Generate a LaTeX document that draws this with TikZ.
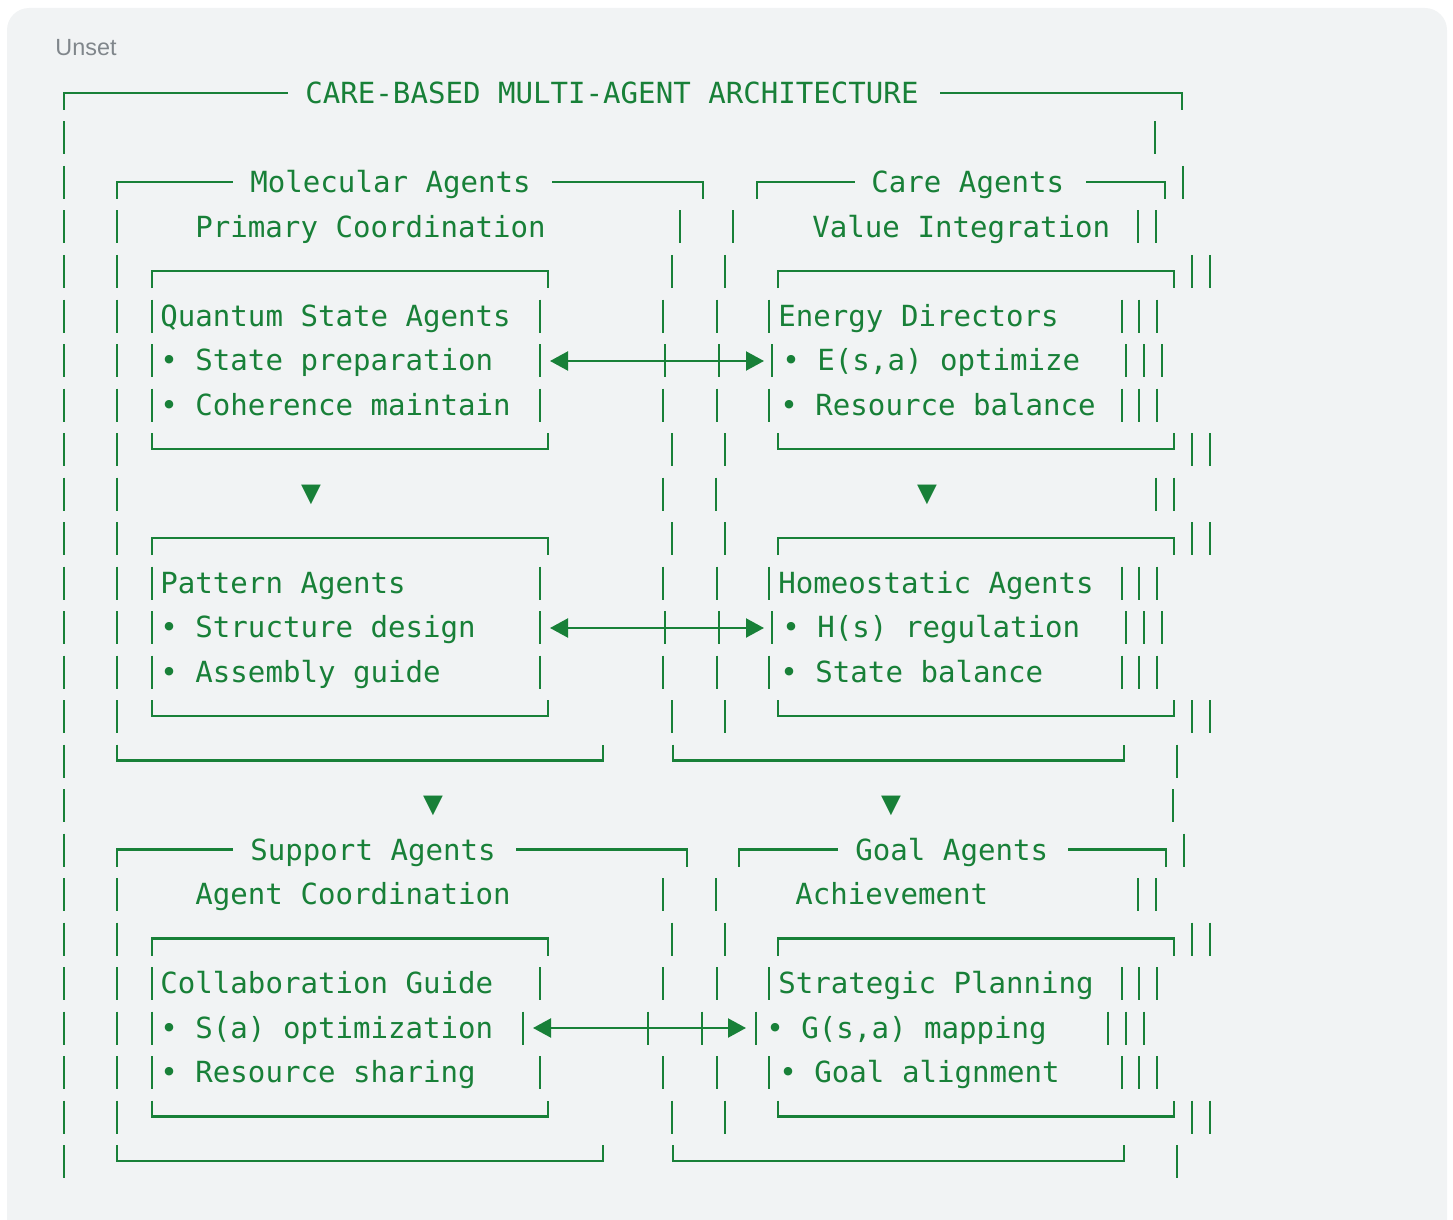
\documentclass[tikz,border=0pt]{standalone}
\usepackage{fontspec}
\setmainfont{Liberation Sans}
\newfontfamily\codefont{DejaVu Sans Mono}
\newfontfamily\symfont{DejaVu Sans Mono}
\usetikzlibrary{arrows.meta}
\definecolor{codegreen}{HTML}{188038}
\definecolor{codebg}{HTML}{F1F3F4}
\definecolor{labelgray}{HTML}{80868B}

\begin{document}
\begin{tikzpicture}[x=0.5pt, y=-0.5pt,
    bar/.style={codegreen, line width=1.15pt},
    txt/.style={anchor=base west, inner sep=0pt, text=codegreen,
        font=\codefont\fontsize{14.55}{17}\selectfont},
    down/.style={inner sep=0pt, text=codegreen,
        font=\symfont\fontsize{16.5}{19}\selectfont},
    biarrow/.style={codegreen, line width=1.1pt,
        {Triangle[length=9pt,width=9.5pt]}-{Triangle[length=9pt,width=9.5pt]}}]
    \useasboundingbox (0,0) rectangle (1453,1220);

    % Code block background
    \fill[codebg, rounded corners=11pt] (7,8) rectangle (1447,1260);
    \node[anchor=base west, inner sep=0pt, text=labelgray,
        font=\fontsize{11.7}{14}\selectfont] (unset) at (55,56) {Unset};

    % Outer frame
    \draw[bar] (64,110) |- (288,93);
    \draw[bar] (940,93) -| (1182,110);
    \node[txt] (title) at (305,103.5) {CARE-BASED MULTI-AGENT ARCHITECTURE};

    % Vertical bars, row by row
    \foreach \yy/\xs in {
        137.5/{64,1155},
        182/{64,1183},
        226.5/{64,117,680,733,1138,1156},
        271/{64,117,672,725,1192,1210},
        315.5/{64,117,152,540,663,717,769,1122,1139,1157},
        360/{64,117,152,540,665,719,772,1126,1144,1162},
        404.5/{64,117,152,540,663,717,769,1122,1139,1157},
        449/{64,117,672,725,1192,1210},
        493.5/{64,117,663,716,1156,1174},
        538/{64,117,672,725,1192,1210},
        582.5/{64,117,152,540,663,717,769,1122,1139,1157},
        627/{64,117,152,540,665,719,772,1126,1144,1162},
        671.5/{64,117,152,540,663,717,769,1122,1139,1157},
        716/{64,117,672,725,1192,1210},
        760.5/{64,1177},
        805/{64,1173},
        849.5/{64,1184},
        894/{64,117,663,716,1138,1156},
        938.5/{64,117,672,725,1192,1210},
        983/{64,117,152,540,663,717,769,1122,1139,1157},
        1027.5/{64,117,152,523,648,702,756,1108,1126,1144},
        1072/{64,117,152,540,663,717,769,1122,1139,1157},
        1116.5/{64,117,672,725,1192,1210},
        1161/{64,1177}}
        {\foreach \xx in \xs {\draw[bar] (\xx,\yy-16) -- (\xx,\yy+17);}}

    % Group frames
    \draw[bar] (117,199) |- (233,182);
    \draw[bar] (552,182) -| (703,199);
    \draw[bar] (757,199) |- (855,182);
    \draw[bar] (1086,182) -| (1165,199);
    \draw[bar] (117,866.5) |- (233,849.5);
    \draw[bar] (516,849.5) -| (687,866.5);
    \draw[bar] (739,866.5) |- (838,849.5);
    \draw[bar] (1068,849.5) -| (1166,866.5);
    \foreach \b in {760.5,1161} {
        \draw[bar] (117,\b-16) |- (603,\b) -- (603,\b-16);
        \draw[bar] (673,\b-16) |- (1124,\b) -- (1124,\b-16);
    }

    % Agent boxes
    \foreach \t/\b in {271/449, 538/716, 938.5/1116.5} {
        \draw[bar] (152,\t+17) |- (548,\t) -- (548,\t+17);
        \draw[bar] (152,\b-16) |- (548,\b) -- (548,\b-16);
        \draw[bar] (778,\t+17) |- (1174,\t) -- (1174,\t+17);
        \draw[bar] (778,\b-16) |- (1174,\b) -- (1174,\b-16);
    }

    % Group titles
    \node[txt] (molecular) at (250,192.5) {Molecular Agents};
    \node[txt] (care) at (871,192.5) {Care Agents};
    \node[txt] (primary) at (195,237) {Primary Coordination};
    \node[txt] (valueint) at (812,237) {Value Integration};
    \node[txt] (support) at (250,860) {Support Agents};
    \node[txt] (goal) at (855,860) {Goal Agents};
    \node[txt] (agentco) at (195,904.5) {Agent Coordination};
    \node[txt] (achieve) at (795,904.5) {Achievement};

    % Left column
    \node[txt] (quantum) at (160,326) {Quantum State Agents};
    \node[txt] (qprep) at (160,370.5) {• State preparation};
    \node[txt] (qcoh) at (160,415) {• Coherence maintain};
    \node[txt] (pattern) at (160,593) {Pattern Agents};
    \node[txt] (pstruct) at (160,637.5) {• Structure design};
    \node[txt] (passem) at (160,682) {• Assembly guide};
    \node[txt] (collab) at (160,993.5) {Collaboration Guide};
    \node[txt] (sopt) at (160,1038) {• S(a) optimization};
    \node[txt] (sshare) at (160,1082.5) {• Resource sharing};

    % Right column
    \node[txt] (energy) at (778,326) {Energy Directors};
    \node[txt] (eopt) at (782,370.5) {• E(s,a) optimize};
    \node[txt] (eres) at (780,415) {• Resource balance};
    \node[txt] (homeo) at (778,593) {Homeostatic Agents};
    \node[txt] (hreg) at (782,637.5) {• H(s) regulation};
    \node[txt] (hbal) at (780,682) {• State balance};
    \node[txt] (strat) at (778,993.5) {Strategic Planning};
    \node[txt] (gmap) at (766,1038) {• G(s,a) mapping};
    \node[txt] (galign) at (779,1082.5) {• Goal alignment};

    % Flow markers
    \node[down] (down1) at (311,495) {▼};
    \node[down] (down2) at (927,495) {▼};
    \node[down] (down3) at (433,806) {▼};
    \node[down] (down4) at (891,806) {▼};

    % Links between columns
    \coordinate (qprepR) at (550,361);
    \coordinate (eoptL) at (764,361);
    \coordinate (pstructR) at (550,628);
    \coordinate (hregL) at (764,628);
    \coordinate (soptR) at (533,1028);
    \coordinate (gmapL) at (746,1028);
    \draw[biarrow] (qprepR) -- (eoptL);
    \draw[biarrow] (pstructR) -- (hregL);
    \draw[biarrow] (soptR) -- (gmapL);
\end{tikzpicture}
\end{document}
